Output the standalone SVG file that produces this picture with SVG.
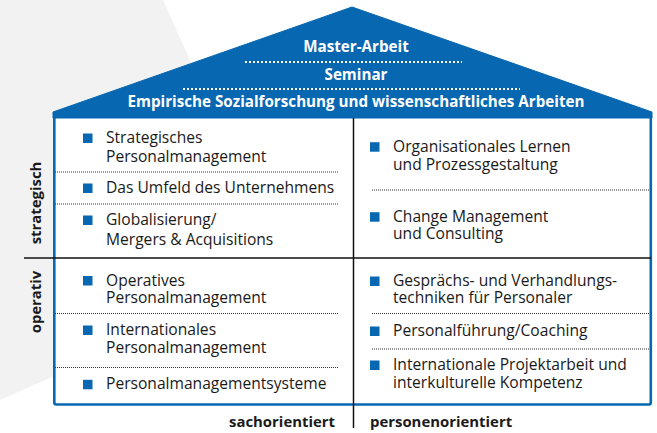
<svg xmlns="http://www.w3.org/2000/svg" width="657" height="433" viewBox="0 0 657 433">
<style>
.t{font-family:"Open Sans","Noto Sans","Liberation Sans",sans-serif;font-size:15.6px;fill:#1a1a1a}
.b{font-family:"Open Sans","Noto Sans","Liberation Sans",sans-serif;font-size:14.9px;font-weight:bold;fill:#1a1a1a}
.w{font-family:"Open Sans","Noto Sans","Liberation Sans",sans-serif;font-size:15.2px;font-weight:bold;fill:#ffffff;text-anchor:middle}
.bul{fill:#0767b1}
.dot{stroke:#333;stroke-width:1;stroke-dasharray:1 1;fill:none}
.wdot{stroke:#fff;stroke-width:2;stroke-dasharray:2 2;fill:none}
</style>
<rect width="657" height="433" fill="#fff"/>
<polygon points="0,0 163,0 286,274 0,400" fill="#f2f2f2"/>
<g id="house">
<rect x="54.3" y="113" width="596.5" height="291.5" rx="2" fill="#fff" stroke="#0767b1" stroke-width="2.6"/>
<polygon points="53,112 352,7 652,112 652,118 53,118" fill="#0767b1" stroke="#0767b1" stroke-width="1" stroke-linejoin="round"/>
</g>
<g id="roof-texts">
<text class="w" x="356" y="52">Master-Arbeit</text>
<line class="wdot" x1="245" y1="62" x2="462" y2="62"/>
<text class="w" x="356" y="80">Seminar</text>
<line class="wdot" x1="183" y1="89" x2="520" y2="89"/>
<text class="w" x="356" y="107">Empirische Sozialforschung und wissenschaftliches Arbeiten</text>
</g>
<g id="connectors">
<line x1="353.5" y1="118" x2="353.5" y2="428" stroke="#111" stroke-width="1.5"/>
<line x1="24" y1="258" x2="651" y2="258" stroke="#111" stroke-width="1.5"/>
<line class="dot" x1="55" y1="172" x2="338" y2="172"/>
<line class="dot" x1="55" y1="204" x2="338" y2="204"/>
<line class="dot" x1="55" y1="313.5" x2="338" y2="313.5"/>
<line class="dot" x1="55" y1="367.5" x2="338" y2="367.5"/>
<line class="dot" x1="372" y1="190" x2="650" y2="190"/>
<line class="dot" x1="372" y1="313.5" x2="650" y2="313.5"/>
<line class="dot" x1="372" y1="349" x2="650" y2="349"/>
</g>
<g id="axis-labels">
<text class="b" transform="translate(40.5,203) rotate(-90)" text-anchor="middle">strategisch</text>
<text class="b" transform="translate(40.5,302) rotate(-90)" text-anchor="middle">operativ</text>
<text class="b" x="335" y="427" text-anchor="end">sachorientiert</text>
<text class="b" x="370" y="427">personenorientiert</text>
</g>
<g id="n1"><rect class="bul" x="83" y="133.5" width="9.5" height="9.5"/><text class="t" x="106" y="143">Strategisches<tspan x="106" dy="19">Personalmanagement</tspan></text></g>
<g id="n2"><rect class="bul" x="83" y="183.5" width="9.5" height="9.5"/><text class="t" x="106" y="193">Das Umfeld des Unternehmens</text></g>
<g id="n3"><rect class="bul" x="83" y="215.5" width="9.5" height="9.5"/><text class="t" x="106" y="225">Globalisierung/<tspan x="106" dy="19.5">Mergers &amp; Acquisitions</tspan></text></g>
<g id="n4"><rect class="bul" x="83" y="276" width="9.5" height="9.5"/><text class="t" x="106" y="285.5">Operatives<tspan x="106" dy="17.8">Personalmanagement</tspan></text></g>
<g id="n5"><rect class="bul" x="83" y="325.5" width="9.5" height="9.5"/><text class="t" x="106" y="335">Internationales<tspan x="106" dy="18.3">Personalmanagement</tspan></text></g>
<g id="n6"><rect class="bul" x="83" y="379.8" width="9.5" height="9.5"/><text class="t" x="106" y="389.3">Personalmanagementsysteme</text></g>
<g id="n7"><rect class="bul" x="370" y="142.2" width="9.5" height="9.5"/><text class="t" x="393" y="151.7">Organisationales Lernen<tspan x="393" dy="18.3">und Prozessgestaltung</tspan></text></g>
<g id="n8"><rect class="bul" x="370" y="212.2" width="9.5" height="9.5"/><text class="t" x="393" y="221.7">Change Management<tspan x="393" dy="17.6">und Consulting</tspan></text></g>
<g id="n9"><rect class="bul" x="370" y="276.5" width="9.5" height="9.5"/><text class="t" x="393" y="286">Gesprächs- und Verhandlungs-<tspan x="393" dy="17.3">techniken für Personaler</tspan></text></g>
<g id="n10"><rect class="bul" x="370" y="326.5" width="9.5" height="9.5"/><text class="t" x="393" y="336">Personalführung/Coaching</text></g>
<g id="n11"><rect class="bul" x="370" y="360.5" width="9.5" height="9.5"/><text class="t" x="393" y="370">Internationale Projektarbeit und<tspan x="393" dy="17.7">interkulturelle Kompetenz</tspan></text></g>
</svg>
